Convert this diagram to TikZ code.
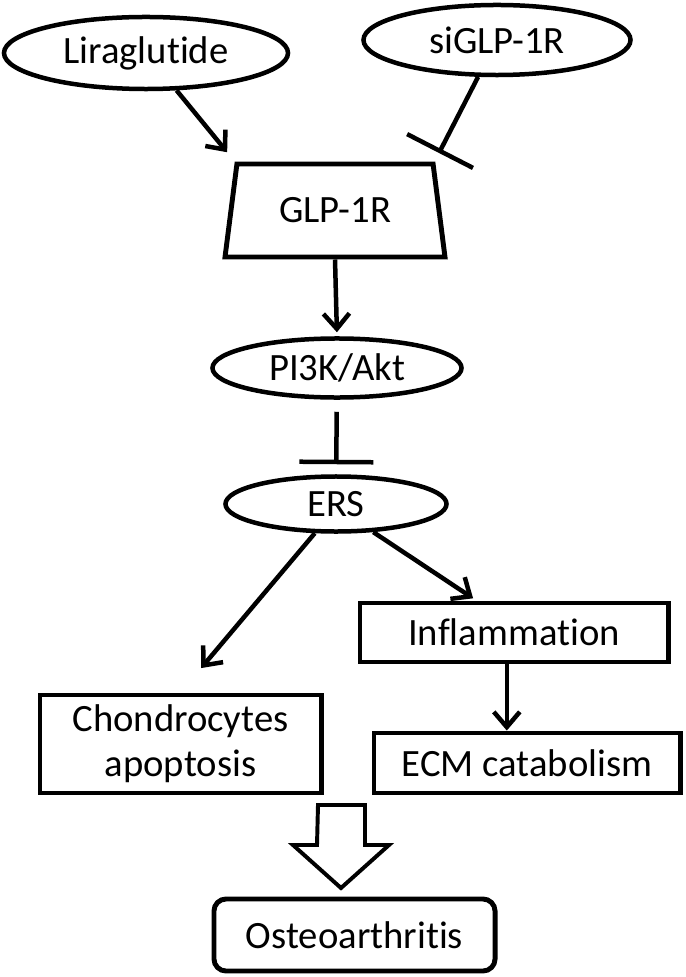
\documentclass[tikz,border=0pt]{standalone}
\usepackage{fontspec}
\setmainfont{Carlito}[Ligatures={NoCommon,NoContextual}]
\usetikzlibrary{arrows.meta,calc,shapes.geometric}

\begin{document}
\begin{tikzpicture}[x=0.025cm,y=-0.025cm,
    oval/.style={ellipse,draw,line width=3.2pt,inner sep=0pt},
    box/.style={rectangle,draw,line width=3.5pt,inner sep=0pt,align=center},
    edge/.style={line width=3.2pt,-{Straight Barb[length=0.38cm,width=0.65cm]}},
    block/.style={line width=3.2pt,-{Bar[width=1.85cm]}},
    every node/.style={font=\fontsize{27.5}{32}\selectfont}]
  \useasboundingbox (0,0) rectangle (685,977);
  \node[oval,minimum width=7.1cm,minimum height=1.8cm] (lira) at (146,53) {Liraglutide};
  \node[oval,minimum width=6.675cm,minimum height=1.75cm] (si) at (497,40) {siGLP-1R};
  \node[trapezium,draw,line width=3.5pt,trapezium angle=75,trapezium stretches=true,
    minimum width=5.5cm,minimum height=2.325cm,inner sep=0pt] (glp) at (335,210.5) {GLP-1R};
  \node[oval,minimum width=6.225cm,minimum height=1.475cm] (pi3k) at (337,368) {PI3K/Akt};
  \node[oval,minimum width=5.525cm,minimum height=1.375cm] (ers) at (336,504) {ERS};
  \node[box,minimum width=7.025cm,minimum height=2.45cm] (chon) at (180.5,744) {Chondrocytes\\apoptosis};
  \node[box,minimum width=7.7cm,minimum height=1.475cm] (infl) at (514,632.5) {Inflammation};
  \node[box,minimum width=7.65cm,minimum height=1.5cm] (ecm) at (527,763) {ECM catabolism};
  \node[box,rounded corners=0.3cm,minimum width=7.025cm,minimum height=1.8cm] (oa) at (354.5,935) {Osteoarthritis};
  \coordinate (sibar) at (439,153);
  \coordinate (hol) at (341.5,805);

  \draw[edge,shorten >=0.3cm] (lira) -- (glp.top left corner);
  \draw[block] (si) -- (sibar);
  \draw[edge,shorten >=0.1cm] (glp.south) -- (pi3k.north);
  \draw[block,shorten <=0.3cm,shorten >=0.25cm] (pi3k) -- (ers);
  \draw[edge,shorten >=0.8cm] (ers.234) -- (chon.north);
  \draw[edge,shorten >=0.1cm] (ers.-37) -- ($(infl.north west)!0.38!(infl.north east)$);
  \draw[edge] ([xshift=-0.18cm]infl.south) -- ([xshift=-0.18cm]infl.south |- ecm.north);
  \draw[line width=2.8pt,line join=miter] (hol) ++(-23.5,0) -- ++(47,0) -- ++(0,40) -- ++(24,0)
    -- ++(-48,43) -- ++(-48,-43) -- ++(24,0) -- cycle;
\end{tikzpicture}
\end{document}
